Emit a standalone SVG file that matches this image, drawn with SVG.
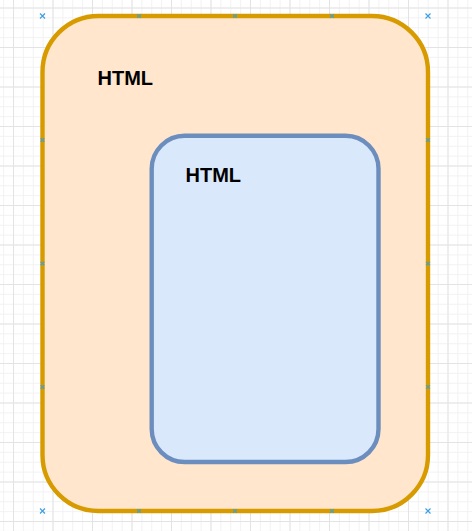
<svg xmlns="http://www.w3.org/2000/svg" width="472" height="531" viewBox="0 0 472 531">
  <style>
    .label { font-family: "Liberation Sans", Arial, sans-serif; font-weight: bold; font-size: 20px; fill: #000000; }
    .cp { stroke: #3fa0e0; stroke-width: 1.2; fill: none; }
    .ep { stroke: #4aa0b8; stroke-width: 1.6; fill: none; opacity: 0.85; }
  </style>
  <defs>
    <pattern id="minor" patternUnits="userSpaceOnUse" x="13" y="7.5" width="9.875" height="9.875">
      <path d="M0.5 0 V9.875 M0 0.5 H9.875" stroke="#f2f2f2" stroke-width="1" fill="none"/>
    </pattern>
    <pattern id="major" patternUnits="userSpaceOnUse" x="13" y="7.5" width="39.5" height="39.5">
      <path d="M0.5 0 V39.5 M0 0.5 H39.5" stroke="#e3e3e3" stroke-width="1" fill="none"/>
    </pattern>
    <path id="xm" d="M-2.5 -2.5 L2.5 2.5 M-2.5 2.5 L2.5 -2.5"/>
    <path id="em" d="M-1.8 -1.8 L1.8 1.8 M-1.8 1.8 L1.8 -1.8"/>
  </defs>
  <rect width="472" height="531" fill="#ffffff"/>
  <rect width="472" height="531" fill="url(#minor)"/>
  <rect width="472" height="531" fill="url(#major)"/>

  <g id="outer-node">
    <rect x="42.5" y="16" width="385.5" height="495" rx="56" ry="56" fill="#ffe6cc" stroke="#d79b00" stroke-width="4.4"/>
    <text class="label" x="97.5" y="85">HTML</text>
  </g>

  <g id="inner-node">
    <rect x="151.7" y="135.8" width="226.8" height="326.2" rx="33" ry="33" fill="#dae8fc" stroke="#6c8ebf" stroke-width="4.4"/>
    <text class="label" x="185.5" y="182">HTML</text>
  </g>

  <g id="connection-points">
    <g class="cp">
      <use href="#xm" x="42.5" y="16"/>
      <use href="#xm" x="428" y="16"/>
      <use href="#xm" x="42.5" y="511"/>
      <use href="#xm" x="428" y="511"/>
    </g>
    <g class="ep">
      <use href="#em" x="139" y="16"/>
      <use href="#em" x="235" y="16"/>
      <use href="#em" x="332" y="16"/>
      <use href="#em" x="139" y="511"/>
      <use href="#em" x="235" y="511"/>
      <use href="#em" x="332" y="511"/>
      <use href="#em" x="42.5" y="140"/>
      <use href="#em" x="42.5" y="263.5"/>
      <use href="#em" x="42.5" y="387"/>
      <use href="#em" x="428" y="140"/>
      <use href="#em" x="428" y="263.5"/>
      <use href="#em" x="428" y="387"/>
    </g>
  </g>

  <g id="connectors"/>
</svg>
